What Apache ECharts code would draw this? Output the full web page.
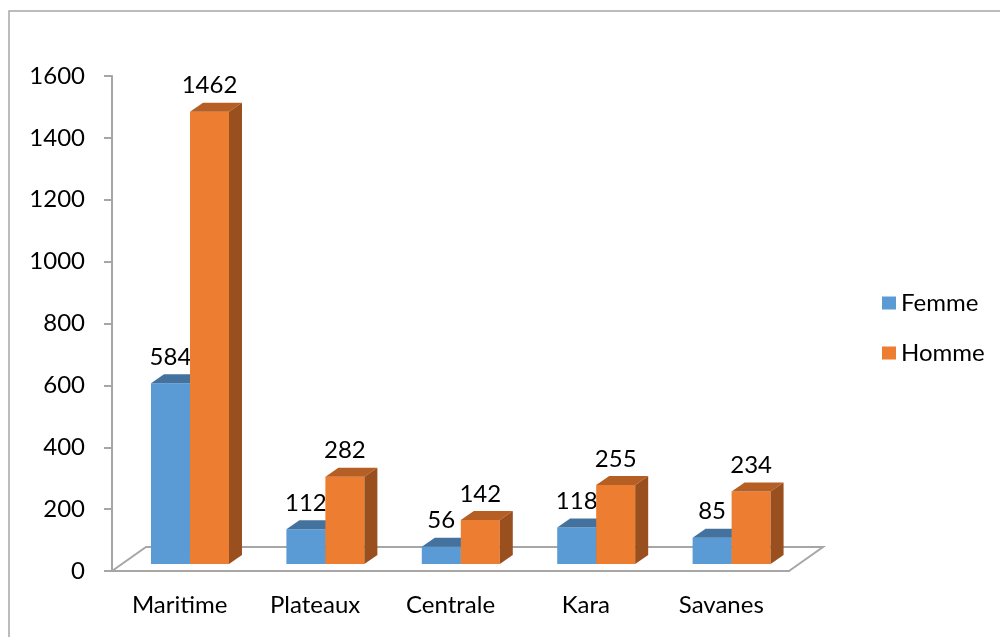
<!DOCTYPE html>
<html>
<head>
<meta charset="utf-8">
<script src="https://cdn.jsdelivr.net/npm/echarts@6/dist/echarts.min.js"></script>
<style>
  html, body { margin: 0; padding: 0; background: #fff; }
  #main { width: 1000px; height: 637px; }
</style>
</head>
<body>
<div id="main"></div>
<script>
// données
const regions = ['Maritime', 'Plateaux', 'Centrale', 'Kara', 'Savanes']
const femme = [584, 112, 56, 118, 85]
const homme = [1462, 282, 142, 255, 234]
const yTicks = [0, 200, 400, 600, 800, 1000, 1200, 1400, 1600]

const FONT = 'Lato'
const FS = 24
// couleurs des faces : avant, dessus, côté
const faces = [
  ['#5B9BD5', '#44729F', '#3E6890'],
  ['#ED7D31', '#B65F25', '#9A4F1E']
]

// barre pseudo-3D
function renderBar(params, api) {
  const idx = params.seriesIndex
  const cat = api.value(0)
  const val = api.value(1)
  const bw = api.size([1, 0])[0]
  const base = api.coord([cat, 0])
  const top = api.coord([cat, val])
  const w = bw * 0.288
  const l = base[0] - bw * 0.212 + idx * w
  const b = base[1] - 7
  const t = top[1] - 7
  const dx = 13, dy = -9
  const c = faces[idx]
  return {
    type: 'group',
    children: [
      { type: 'rect', shape: { x: l, y: t, width: w, height: b - t }, style: { fill: c[0] } },
      { type: 'polygon', shape: { points: [[l, t], [l + w, t], [l + w + dx, t + dy], [l + dx, t + dy]] }, style: { fill: c[1] } },
      { type: 'polygon', shape: { points: [[l + w, t], [l + w + dx, t + dy], [l + w + dx, b + dy], [l + w, b]] }, style: { fill: c[2] } },
      {
        type: 'text',
        style: {
          text: String(val), x: l + w / 2, y: t + dy - 5,
          align: 'center', verticalAlign: 'bottom',
          font: FS + 'px ' + FONT, fill: '#000'
        }
      }
    ]
  }
}

// plancher en perspective
function renderFloor(params) {
  const cs = params.coordSys
  const x0 = cs.x, x1 = cs.x + cs.width, y = cs.y + cs.height
  const dx = 34, dy = -24
  return {
    type: 'polyline',
    shape: { points: [[x0, y], [x0 + dx, y + dy], [x1 + dx, y + dy], [x1, y]] },
    style: { stroke: '#A6A6A6', lineWidth: 2, fill: null }
  }
}

const chart = echarts.init(document.getElementById('main'))
chart.setOption({
  animation: false,
  textStyle: { fontFamily: FONT },
  graphic: [
    { type: 'rect', shape: { x: 9, y: 11, width: 1100, height: 700 }, style: { fill: null, stroke: '#A6A6A6', lineWidth: 1.5 }, z: 0 }
  ],
  grid: { left: 112, right: 211, top: 76, bottom: 66 },
  legend: {
    orient: 'vertical',
    left: 877,
    top: 286,
    itemWidth: 14,
    itemHeight: 13,
    itemGap: 26,
    icon: 'rect',
    data: ['Femme', 'Homme'],
    textStyle: { fontSize: FS, color: '#000', fontFamily: FONT, lineHeight: 22 }
  },
  xAxis: {
    type: 'category',
    data: regions,
    axisLine: { lineStyle: { color: '#A6A6A6', width: 2 } },
    axisTick: { length: 8, lineStyle: { color: '#A6A6A6', width: 2 } },
    axisLabel: { fontSize: FS, color: '#000', margin: 22, fontFamily: FONT }
  },
  yAxis: {
    type: 'value',
    min: yTicks[0],
    max: yTicks[yTicks.length - 1],
    interval: 200,
    axisLine: { show: true, lineStyle: { color: '#A6A6A6', width: 2 } },
    axisTick: { show: true, length: 8, lineStyle: { color: '#A6A6A6', width: 2 } },
    splitLine: { show: false },
    axisLabel: { fontSize: FS, color: '#000', margin: 27, fontFamily: FONT, formatter: v => String(v) }
  },
  series: [
    {
      name: 'Femme',
      type: 'custom',
      renderItem: renderBar,
      itemStyle: { color: faces[0][0] },
      data: femme.map((v, i) => [i, v]),
      z: 3
    },
    {
      name: 'Homme',
      type: 'custom',
      renderItem: renderBar,
      itemStyle: { color: faces[1][0] },
      data: homme.map((v, i) => [i, v]),
      z: 4
    },
    {
      type: 'custom',
      renderItem: renderFloor,
      data: [[0, 0]],
      silent: true,
      z: 1
    }
  ]
})
</script>
</body>
</html>
